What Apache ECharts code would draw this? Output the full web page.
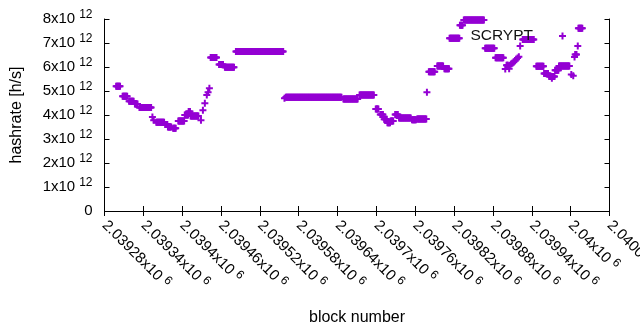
<!DOCTYPE html>
<html>
<head>
<meta charset="utf-8">
<script src="https://cdn.jsdelivr.net/npm/echarts@6/dist/echarts.min.js"></script>
<style>
  html, body { margin: 0; padding: 0; background: #fff; }
  #chart { width: 640px; height: 330px; }
</style>
</head>
<body>
<div id="chart"></div>
<script>
// runs of consecutive blocks that share one hashrate (units of 10^12 h/s)
const runFirst = [
  2039298, 2039308, 2039318, 2039327, 2039334, 2039354, 2039356, 2039360, 2039374, 2039378,
  2039386, 2039394, 2039404, 2039410, 2039413, 2039429, 2039432, 2039435, 2039438, 2039440,
  2039442, 2039444, 2039457, 2039466, 2039483, 2039558, 2039560, 2039649, 2039674, 2039699,
  2039706, 2039712, 2039717, 2039722, 2039729, 2039735, 2039755, 2039763, 2039778, 2039781,
  2039794, 2039805, 2039813, 2039829, 2039835, 2039868, 2039884, 2039899, 2039901, 2039905,
  2039906, 2039908, 2039910, 2039912, 2039914, 2039916, 2039918, 2039920, 2039922, 2039926,
  2039947, 2039959, 2039967, 2039971, 2039976, 2039982, 2040001, 2040004, 2040006, 2040007,
  2040011, 2040012
];
const runLast = [
  2039304, 2039315, 2039325, 2039331, 2039352, 2039354, 2039356, 2039372, 2039377, 2039383,
  2039390, 2039403, 2039409, 2039412, 2039425, 2039429, 2039432, 2039435, 2039438, 2039440,
  2039442, 2039453, 2039463, 2039480, 2039556, 2039558, 2039646, 2039671, 2039696, 2039703,
  2039710, 2039716, 2039721, 2039726, 2039733, 2039753, 2039761, 2039777, 2039778, 2039790,
  2039803, 2039812, 2039828, 2039833, 2039866, 2039882, 2039896, 2039899, 2039903, 2039905,
  2039906, 2039908, 2039910, 2039912, 2039914, 2039916, 2039918, 2039920, 2039922, 2039943,
  2039958, 2039965, 2039975, 2039971, 2039981, 2039998, 2040001, 2040004, 2040006, 2040009,
  2040011, 2040018
];
const runHash = [
  5.20, 4.78, 4.57, 4.46, 4.31, 3.92, 3.78, 3.70, 3.60, 3.50,
  3.45, 3.75, 4.00, 4.15, 3.96, 3.78, 4.20, 4.49, 4.83, 4.95,
  5.11, 6.40, 6.10, 5.99, 6.65, 4.70, 4.74, 4.67, 4.83, 4.25,
  4.02, 3.82, 3.68, 3.75, 4.02, 3.87, 3.80, 3.83, 4.95, 5.80,
  6.04, 5.93, 7.20, 7.74, 7.96, 6.78, 6.39, 5.92, 6.07, 5.93,
  6.07, 6.12, 6.16, 6.20, 6.26, 6.32, 6.38, 6.43, 6.87, 7.15,
  6.03, 5.73, 5.60, 5.53, 5.86, 6.04, 5.69, 5.64, 6.42, 6.52,
  6.88, 7.61
];

const xTickLabels = [
  '2.03928', '2.03934', '2.0394', '2.03946', '2.03952', '2.03958', '2.03964',
  '2.0397', '2.03976', '2.03982', '2.03988', '2.03994', '2.04', '2.04006'
];
const xMin = 2039280, xMax = 2040060, xStep = 60;

const purple = '#9400d3';
const plus = 'path://M0,2.5H7V4.5H0Z M2.5,0H4.5V7H2.5Z';
const font = 'Liberation Sans';

const points = [];
for (let i = 0; i < runFirst.length; i++) {
  for (let b = runFirst[i]; b <= runLast[i]; b++) {
    points.push([b, runHash[i]]);
  }
}

const rich = {
  m: { fontSize: 15, fontFamily: font, color: '#000', lineHeight: 20 },
  e: { fontSize: 12, fontFamily: font, color: '#000', lineHeight: 20, verticalAlign: 'top', padding: [0, 0, 0, 4] }
};

const chart = echarts.init(document.getElementById('chart'), null, { renderer: 'canvas' });
chart.setOption({
  animation: false,
  backgroundColor: '#fff',
  textStyle: { fontFamily: font },
  grid: { left: 104.5, top: 19, width: 505, height: 192, containLabel: false, outerBoundsMode: 'none' },
  legend: {
    data: ['SCRYPT'],
    right: 69,
    top: 23,
    align: 'right',
    icon: plus,
    itemWidth: 7,
    itemHeight: 7,
    textStyle: { fontSize: 15.5, fontFamily: font, color: '#111', padding: [0, 21, 0, 0] }
  },
  xAxis: [{
    type: 'value',
    min: xMin, max: xMax, interval: xStep,
    name: 'block number',
    nameLocation: 'middle',
    nameGap: 99,
    nameTextStyle: { fontSize: 16, fontFamily: font, color: '#000' },
    axisLine: { show: true, lineStyle: { color: '#000', width: 1 } },
    axisTick: { show: true, inside: true, length: 5, lineStyle: { color: '#000' } },
    splitLine: { show: false },
    axisLabel: {
      rotate: -45,
      margin: 12,
      showMaxLabel: true,
      hideOverlap: false,
      formatter: v => '{m|' + xTickLabels[Math.round((v - xMin) / xStep)] + 'x10}{e|6}',
      rich: rich
    }
  }, {
    type: 'value',
    position: 'top',
    min: xMin, max: xMax, interval: xStep,
    axisLine: { show: true, lineStyle: { color: '#000', width: 1 } },
    axisTick: { show: true, inside: true, length: 5, lineStyle: { color: '#000' } },
    splitLine: { show: false },
    axisLabel: { show: false }
  }],
  yAxis: [{
    type: 'value',
    min: 0, max: 8, interval: 1,
    name: 'hashrate [h/s]',
    nameLocation: 'middle',
    nameRotate: 90,
    nameGap: 80,
    nameTextStyle: { fontSize: 16, fontFamily: font, color: '#000' },
    axisLine: { show: true, lineStyle: { color: '#000', width: 1 } },
    axisTick: { show: true, inside: true, length: 5, lineStyle: { color: '#000' } },
    splitLine: { show: false },
    axisLabel: {
      margin: 12,
      formatter: v => v === 0 ? '{m|0}' : '{m|' + v + 'x10}{e|12}',
      rich: rich
    }
  }, {
    type: 'value',
    position: 'right',
    min: 0, max: 8, interval: 1,
    axisLine: { show: true, lineStyle: { color: '#000', width: 1 } },
    axisTick: { show: true, inside: true, length: 5, lineStyle: { color: '#000' } },
    splitLine: { show: false },
    axisLabel: { show: false }
  }],
  series: [{
    name: 'SCRYPT',
    type: 'scatter',
    xAxisIndex: 0,
    yAxisIndex: 0,
    symbol: plus,
    symbolSize: [7, 7],
    itemStyle: { color: purple, opacity: 1 },
    data: points
  }]
});
</script>
</body>
</html>
